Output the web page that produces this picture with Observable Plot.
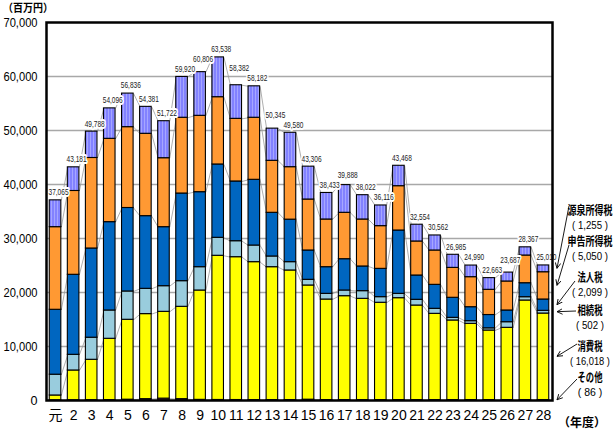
<!DOCTYPE html>
<html><head><meta charset="utf-8">
<script src="https://cdn.jsdelivr.net/npm/d3@7"></script>
<script src="https://cdn.jsdelivr.net/npm/@observablehq/plot@0.6"></script>
<style>
body{margin:0;background:#fff}
svg{display:block}
</style>
</head><body><div id="chart"></div>
<script>
// ---- data (百万円) ----
const years = ["元","2","3","4","5","6","7","8","9","10","11","12","13","14","15","16","17","18","19","20","21","22","23","24","25","26","27","28"];
const sonota   = [30,40,60,80,150,250,350,250,120,100,90,80,80,80,150,80,80,80,80,80,80,80,80,80,80,80,80,86];
const shohi    = [900,5520,7480,11350,14800,15750,16070,17100,20250,26700,26450,25540,24610,24000,21150,18620,19240,18750,18020,18870,17510,15970,14740,14120,12880,13380,18440,16018];
const sozoku   = [3850,2900,4090,5240,5240,4680,4750,4750,4320,3330,2960,3080,1980,1540,1050,1050,1050,1420,1040,800,1060,930,490,490,410,1040,610,502];
const hojin    = [12020,14820,16520,16360,15460,13460,10930,16230,13890,13580,11060,12170,8090,7870,5430,4940,5800,4570,5240,11730,4500,4440,3710,2590,2460,2170,2590,2099];
const shinkoku = [15300,15520,16760,15430,14970,15250,12770,14030,14140,12460,11600,11490,9630,9720,9440,8830,8590,8700,7910,8210,6300,6360,5540,5560,4670,5370,5130,5050];
const gensen   = [4965,4381,4878,5636,6216,4991,6852,7560,8086,7368,6222,5822,5955,6370,6086,4913,5128,4502,3826,3778,3104,2782,2425,2150,2163,1647,1517,1255];
const totals   = [37065,43181,49788,54096,56836,54381,51722,59920,60806,63538,58382,58182,50345,49580,43306,38433,39888,38022,36116,43468,32554,30562,26985,24990,22663,23687,28367,25010];
const yTicks   = [0,10000,20000,30000,40000,50000,60000,70000];
const seriesNames  = ["その他","消費税","相続税","法人税","申告所得税","源泉所得税"];
const seriesColors = ["#993366","#FFFF00","#99CCDD","#0066C0","#FF9933","url(#lav)"];

// ---- derived tables ----
const W = 615, H = 431, mL = 46, mR = 63, mT = 22, mB = 31;
const seriesValues = [sonota, shohi, sozoku, hojin, shinkoku, gensen];
const HW = 0.32; // half bar width in band units
const rows = [];
const tops = seriesNames.map(() => []);
years.forEach((yr, i) => {
  let base = 0;
  seriesValues.forEach((vals, s) => {
    rows.push({i, series: seriesNames[s], y1: base, y2: base + vals[i]});
    base += vals[i];
    tops[s][i] = base;
  });
});
const links = [];
tops.forEach(t => { for (let i = 0; i < t.length - 1; i++) links.push({x1: i + HW, x2: i + 1 - HW, y1: t[i], y2: t[i + 1]}); });

// total labels: sit just above each bar; nudge the taller of two colliding neighbours upward
const yScale = Plot.scale({y: {domain: [0, 70000], range: [H - mB, mT]}});
const labPx = totals.map(t => yScale.apply(t) - 8);
for (let i = 0; i < labPx.length - 1; i++) {
  const a = i, b = i + 1;
  if (Math.abs(labPx[a] - labPx[b]) < 10) {
    if (totals[a] >= totals[b]) labPx[a] = labPx[b] - 10; else labPx[b] = labPx[a] - 10;
  }
}
const labels = totals.map((t, i) => ({i, t, ly: yScale.invert(labPx[i])}));

const font = "'Liberation Sans', 'Noto Sans CJK JP', sans-serif";
const chart = Plot.plot({
  width: W, height: H,
  marginLeft: mL, marginRight: mR, marginTop: mT, marginBottom: mB,
  style: {fontFamily: font, background: "#fff"},
  x: {domain: [-0.5, 27.5], axis: null},
  y: {domain: [0, 70000], axis: null},
  color: {domain: seriesNames, range: seriesColors},
  marks: [
    Plot.ruleY(yTicks.slice(1, -1), {stroke: "#a8a8a8", strokeWidth: 1.3}),
    Plot.link(links, {x1: "x1", y1: "y1", x2: "x2", y2: "y2", stroke: "#9a9a9a", strokeWidth: 0.8}),
    Plot.rect(rows, {x1: d => d.i - HW, x2: d => d.i + HW, y1: "y1", y2: "y2", fill: "series", stroke: "#000", strokeWidth: 1.1}),
    Plot.text(labels, {x: "i", y: "ly", text: d => d3.format(",")(d.t), dx: 3, fontSize: 9, fill: "#222", stroke: "#fff", strokeWidth: 4, className: "totlab"}),
    Plot.axisY(yTicks, {tickSize: 0, tickPadding: 9, tickFormat: d3.format(","), fontSize: 12.5, fill: "#000", className: "ylab"}),
    Plot.axisX(d3.range(years.length), {tickSize: 0, tickPadding: 10, tickFormat: i => years[i], fontSize: 14, fill: "#000", letterSpacing: -0.8}),
    Plot.frame({stroke: "#000", strokeWidth: 2.5})
  ]
});
document.getElementById("chart").append(chart);

// ---- annotations ----
const svg = d3.select(chart);
const ys = chart.scale("y");
const cjk = "'Noto Sans CJK JP', sans-serif";
const lat = "'Liberation Sans', sans-serif";
const defs = svg.append("defs");
const pat = defs.append("pattern").attr("id", "lav").attr("patternUnits", "userSpaceOnUse").attr("width", 3).attr("height", 4);
pat.append("rect").attr("width", 3).attr("height", 4).attr("fill", "#8282FF");
pat.append("rect").attr("width", 1).attr("height", 4).attr("fill", "#A6A6FF");
defs.append("marker").attr("id", "ah").attr("viewBox", "0 0 8 8").attr("refX", 7).attr("refY", 4)
  .attr("markerWidth", 7).attr("markerHeight", 7).attr("orient", "auto")
  .append("path").attr("d", "M0,0.5 L7,4 L0,7.5").attr("fill", "none").attr("stroke", "#000").attr("stroke-width", 1.1);

// squeeze numeric labels horizontally like the reference
svg.selectAll("g.totlab text").attr("textLength", 20).attr("lengthAdjust", "spacingAndGlyphs");
svg.selectAll("g.ylab text").each(function() {
  const n = this.textContent.length;
  d3.select(this).attr("textLength", n === 1 ? 7 : 34).attr("lengthAdjust", "spacingAndGlyphs");
});

// horizontally condensed text: centred at (cx, cy), scaled to width w
function squeezed(txt, cx, cy, w, size, weight, family) {
  const t = svg.append("text").attr("text-anchor", "middle").attr("dominant-baseline", "central")
    .attr("font-family", family || cjk).attr("font-weight", weight).attr("font-size", size).attr("fill", "#000").text(txt);
  const natural = t.node().getComputedTextLength();
  const sx = Math.min(1, w / natural);
  t.attr("transform", `translate(${cx},${cy}) scale(${sx},1)`);
  return t;
}
squeezed("（百万円）", 28, 7.5, 50, 11, "bold");
squeezed("（年度）", 582, 421, 50, 12, "bold");

const last = years.length - 1;
const legendLayout = [ // [name y, value y, arrow start x, arrow start y, name width, value width]
  [210, 225, 569, 206, 45, 36],
  [241, 256, 569, 245, 45, 36],
  [277, 292, 575, 281, 25, 36],
  [310, 325, 576, 311, 25, 28],
  [346, 361, 577, 344, 25, 40],
  [377, 392, 577, 379, 25, 26]
];
const order = [5, 4, 3, 2, 1, 0];
order.forEach((s, k) => {
  const [ny, vy, ax, ay, nw, vw] = legendLayout[k];
  const mid = (tops[s][last] - seriesValues[s][last] / 2);
  svg.append("line").attr("x1", ax).attr("y1", ay).attr("x2", 557).attr("y2", ys.apply(mid))
    .attr("stroke", "#000").attr("stroke-width", 0.9).attr("marker-end", "url(#ah)");
  squeezed(seriesNames[s], 590, ny, nw, 12, "bold");
  squeezed("( " + d3.format(",")(seriesValues[s][last]) + " )", 590, vy, vw, 10.5, "normal", lat);
});
</script>
</body></html>
